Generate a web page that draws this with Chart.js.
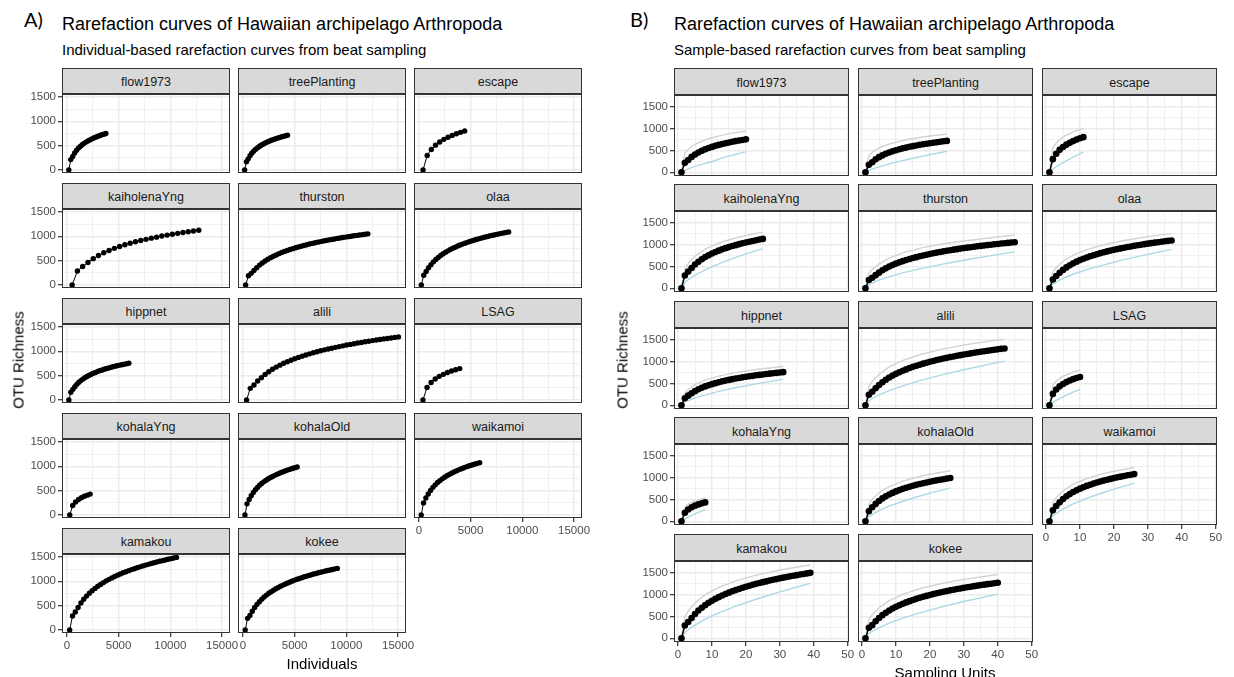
<!DOCTYPE html>
<html>
<head>
<meta charset="utf-8">
<script src="https://cdn.jsdelivr.net/npm/chart.js@4.4.1/dist/chart.umd.min.js"></script>
<style>
  body { margin: 0; width: 1234px; height: 677px; overflow: hidden; position: relative; background: #fff;
         font-family: 'Liberation Sans', Arial, sans-serif; }
  .txt { position: absolute; white-space: nowrap; line-height: 1; }
  .strip { position: absolute; box-sizing: border-box; background: #d9d9d9; border: 1px solid #333;
           color: #1a1a1a; font-size: 12.5px; display: flex; align-items: center; justify-content: center; padding-top: 2px; }
  canvas { position: absolute; }
</style>
</head>
<body>
<script>
// --- Data ---
const siteNames = ['flow1973', 'treePlanting', 'escape', 'kaiholenaYng', 'thurston', 'olaa', 'hippnet',
                   'alili', 'LSAG', 'kohalaYng', 'kohalaOld', 'waikamoi', 'kamakou', 'kokee'];

// OTU richness after 1, 2, 3 ... sampling units (one entry per unit)
const richFlow1973 = [0, 215, 279, 351, 407, 452, 490, 523, 553, 579, 602, 624, 644, 662, 679, 695, 710, 724, 737, 750];
const richTreePlanting = [0, 170, 230, 295, 345, 385, 421, 451, 478, 503, 525, 545, 563, 581, 596, 611, 625, 638, 651, 663, 674, 685, 696, 706, 715];
const richEscape = [0, 300, 423, 511, 577, 630, 674, 711, 745, 774, 800];
const richKaiholenaYng = [0, 290, 380, 464, 542, 606, 663, 710, 753, 791, 826, 857, 887, 914, 938, 962, 983, 1005, 1025, 1043, 1061, 1078, 1095, 1110, 1125];
const richThurston = [0, 190, 240, 300, 357, 410, 454, 494, 529, 562, 591, 618, 644, 667, 689, 709, 729, 747, 764, 781, 797, 813, 827, 841, 855, 867, 880, 891, 904, 915, 926, 936, 946, 957, 966, 975, 984, 993, 1002, 1010, 1019, 1027, 1034, 1043, 1050];
const richOlaa = [0, 200, 280, 355, 419, 476, 525, 568, 607, 642, 674, 702, 729, 754, 777, 800, 821, 840, 859, 876, 893, 909, 924, 940, 953, 967, 980, 993, 1005, 1017, 1028, 1039, 1050, 1061, 1070, 1080, 1090];
const richHippnet = [0, 160, 220, 275, 322, 364, 399, 430, 458, 482, 505, 525, 545, 562, 579, 595, 609, 623, 636, 649, 660, 671, 683, 692, 703, 712, 721, 730, 738, 747, 755];
const richAlili = [0, 240, 310, 390, 460, 526, 581, 632, 676, 716, 754, 787, 818, 848, 875, 901, 925, 948, 970, 991, 1010, 1030, 1048, 1064, 1081, 1097, 1112, 1128, 1142, 1156, 1169, 1182, 1195, 1207, 1220, 1232, 1242, 1254, 1264, 1274, 1285, 1295];
const richLSAG = [0, 260, 359, 432, 486, 528, 564, 595, 621, 645];
const richKohalaYng = [0, 195, 269, 319, 356, 385, 409, 430];
const richKohalaOld = [0, 230, 320, 396, 464, 521, 568, 611, 647, 681, 711, 739, 764, 787, 809, 830, 849, 868, 885, 901, 917, 932, 946, 959, 972, 985];
const richWaikamoi = [0, 250, 350, 432, 506, 569, 620, 667, 706, 743, 776, 806, 834, 859, 883, 906, 927, 947, 965, 984, 1001, 1017, 1032, 1047, 1061, 1075];
const richKamakou = [0, 290, 370, 463, 554, 632, 697, 755, 808, 855, 898, 937, 974, 1009, 1040, 1070, 1098, 1123, 1150, 1174, 1196, 1219, 1240, 1259, 1278, 1296, 1316, 1332, 1348, 1365, 1381, 1396, 1410, 1424, 1438, 1451, 1465, 1478, 1490];
const richKokee = [0, 240, 300, 387, 463, 527, 583, 634, 677, 717, 754, 787, 817, 846, 873, 898, 922, 945, 966, 987, 1006, 1025, 1042, 1059, 1075, 1092, 1106, 1121, 1135, 1149, 1161, 1175, 1187, 1199, 1211, 1222, 1233, 1243, 1255, 1265];

// individuals accumulated at the same steps
const indivFlow1973 = [189, 377, 566, 754, 943, 1131, 1320, 1508, 1697, 1885, 2074, 2262, 2451, 2639, 2828, 3016, 3205, 3393, 3582, 3770];
const indivTreePlanting = [173, 346, 518, 691, 864, 1037, 1210, 1382, 1555, 1728, 1901, 2074, 2246, 2419, 2592, 2765, 2938, 3110, 3283, 3456, 3629, 3802, 3974, 4147, 4320];
const indivEscape = [403, 805, 1208, 1611, 2014, 2416, 2819, 3222, 3624, 4027, 4430];
const indivKaiholenaYng = [510, 1020, 1530, 2040, 2550, 3060, 3570, 4080, 4590, 5100, 5610, 6120, 6630, 7140, 7650, 8160, 8670, 9180, 9690, 10200, 10710, 11220, 11730, 12240, 12750];
const indivThurston = [268, 537, 805, 1074, 1342, 1611, 1879, 2148, 2416, 2684, 2953, 3221, 3490, 3758, 4027, 4295, 4563, 4832, 5100, 5369, 5637, 5906, 6174, 6442, 6711, 6979, 7248, 7516, 7785, 8053, 8321, 8590, 8858, 9127, 9395, 9664, 9932, 10200, 10469, 10737, 11006, 11274, 11543, 11811, 12080];
const indivOlaa = [235, 469, 704, 938, 1173, 1408, 1642, 1877, 2111, 2346, 2581, 2815, 3050, 3284, 3519, 3754, 3988, 4223, 4457, 4692, 4927, 5161, 5396, 5630, 5865, 6100, 6334, 6569, 6803, 7038, 7273, 7507, 7742, 7976, 8211, 8446, 8680];
const indivHippnet = [193, 386, 580, 773, 966, 1159, 1353, 1546, 1739, 1932, 2125, 2319, 2512, 2705, 2898, 3092, 3285, 3478, 3671, 3865, 4058, 4251, 4444, 4637, 4831, 5024, 5217, 5410, 5604, 5797, 5990];
const indivAlili = [358, 716, 1074, 1432, 1790, 2149, 2507, 2865, 3223, 3581, 3939, 4297, 4655, 5013, 5371, 5730, 6088, 6446, 6804, 7162, 7520, 7878, 8236, 8594, 8952, 9310, 9669, 10027, 10385, 10743, 11101, 11459, 11817, 12175, 12533, 12891, 13250, 13608, 13966, 14324, 14682, 15040];
const indivLSAG = [395, 790, 1185, 1580, 1975, 2370, 2765, 3160, 3555, 3950];
const indivKohalaYng = [281, 563, 844, 1125, 1406, 1688, 1969, 2250];
const indivKohalaOld = [202, 404, 606, 808, 1010, 1212, 1413, 1615, 1817, 2019, 2221, 2423, 2625, 2827, 3029, 3231, 3433, 3635, 3837, 4038, 4240, 4442, 4644, 4846, 5048, 5250];
const indivWaikamoi = [226, 452, 678, 905, 1131, 1357, 1583, 1809, 2035, 2262, 2488, 2714, 2940, 3166, 3392, 3618, 3845, 4071, 4297, 4523, 4749, 4975, 5202, 5428, 5654, 5880];
const indivKamakou = [272, 544, 815, 1087, 1359, 1631, 1903, 2174, 2446, 2718, 2990, 3262, 3533, 3805, 4077, 4349, 4621, 4892, 5164, 5436, 5708, 5979, 6251, 6523, 6795, 7067, 7338, 7610, 7882, 8154, 8426, 8697, 8969, 9241, 9513, 9785, 10056, 10328, 10600];
const indivKokee = [228, 457, 685, 913, 1141, 1370, 1598, 1826, 2054, 2283, 2511, 2739, 2967, 3196, 3424, 3652, 3880, 4109, 4337, 4565, 4793, 5022, 5250, 5478, 5706, 5935, 6163, 6391, 6619, 6848, 7076, 7304, 7532, 7761, 7989, 8217, 8445, 8674, 8902, 9130];

// upper (grey) and lower (blue) curves, [sampling units, richness]
const upperFlow1973 = [[1, 0], [2, 437], [3, 527], [5, 639], [8, 741], [12, 829], [16, 892], [20, 940]];
const lowerFlow1973 = [[1, 0], [2, 45], [3, 78], [5, 135], [8, 205], [10, 240], [12, 300], [14, 350], [16, 385], [20, 470]];
const upperTreePlanting = [[1, 0], [2, 382], [3, 457], [5, 555], [8, 645], [12, 725], [16, 782], [20, 826], [25, 870]];
const lowerTreePlanting = [[1, 0], [2, 44], [3, 74], [5, 125], [8, 191], [12, 267], [16, 337], [20, 403], [25, 480]];
const upperEscape = [[1, 0], [2, 553], [3, 670], [5, 805], [8, 922], [11, 1000]];
const lowerEscape = [[1, 0], [2, 73], [3, 127], [5, 221], [8, 346], [11, 460]];
const upperKaiholenaYng = [[1, 0], [2, 439], [3, 568], [5, 736], [8, 892], [12, 1030], [16, 1128], [20, 1203], [25, 1280]];
const lowerKaiholenaYng = [[1, 0], [2, 126], [3, 194], [5, 298], [8, 422], [12, 558], [16, 676], [20, 783], [25, 905]];
const upperThurston = [[1, 0], [2, 341], [3, 431], [5, 557], [8, 687], [12, 806], [17, 910], [23, 1003], [30, 1077], [38, 1152], [45, 1215]];
const lowerThurston = [[1, 0], [2, 79], [3, 122], [5, 188], [8, 265], [12, 351], [17, 443], [23, 539], [30, 640], [38, 745], [45, 830]];
const upperOlaa = [[1, 0], [2, 372], [3, 474], [5, 616], [8, 756], [12, 881], [17, 992], [23, 1089], [30, 1177], [37, 1245]];
const lowerOlaa = [[1, 0], [2, 96], [3, 147], [5, 227], [8, 320], [12, 424], [17, 535], [23, 652], [30, 774], [37, 885]];
const upperHippnet = [[1, 0], [2, 281], [3, 361], [5, 469], [8, 573], [12, 665], [17, 745], [23, 815], [31, 885]];
const lowerHippnet = [[1, 0], [2, 72], [3, 110], [5, 169], [8, 239], [12, 317], [17, 400], [23, 487], [31, 590]];
const upperAlili = [[1, 0], [2, 432], [3, 548], [5, 709], [8, 873], [12, 1022], [17, 1151], [23, 1269], [30, 1373], [38, 1466], [42, 1505]];
const lowerAlili = [[1, 0], [2, 100], [3, 155], [5, 237], [8, 336], [12, 444], [17, 561], [23, 683], [30, 810], [38, 943], [42, 1005]];
const upperLSAG = [[1, 0], [2, 455], [3, 552], [5, 662], [8, 756], [10, 800]];
const lowerLSAG = [[1, 0], [2, 63], [3, 110], [5, 191], [8, 299], [10, 365]];
const upperKohalaYng = [[1, 0], [2, 323], [3, 391], [5, 466], [8, 530]];
const lowerKohalaYng = [[1, 0], [2, 56], [3, 97], [5, 169], [8, 265]];
const upperKohalaOld = [[1, 0], [2, 389], [3, 503], [5, 651], [8, 791], [12, 914], [16, 1002], [20, 1070], [26, 1150]];
const lowerKohalaOld = [[1, 0], [2, 103], [3, 159], [5, 244], [8, 345], [12, 457], [16, 553], [20, 641], [26, 760]];
const upperWaikamoi = [[1, 0], [2, 414], [3, 535], [5, 693], [8, 843], [12, 974], [16, 1067], [20, 1139], [26, 1225]];
const lowerWaikamoi = [[1, 0], [2, 118], [3, 182], [5, 279], [8, 395], [12, 523], [16, 633], [20, 734], [26, 870]];
const upperKamakou = [[1, 0], [2, 491], [3, 624], [5, 810], [8, 995], [12, 1162], [17, 1309], [23, 1440], [30, 1555], [38, 1658], [39, 1670]];
const lowerKamakou = [[1, 0], [2, 131], [3, 201], [5, 300], [8, 438], [12, 580], [17, 731], [23, 890], [30, 1057], [38, 1230], [39, 1250]];
const upperKokee = [[1, 0], [2, 423], [3, 537], [5, 696], [8, 857], [12, 1001], [17, 1128], [23, 1241], [30, 1341], [38, 1430], [40, 1450]];
const lowerKokee = [[1, 0], [2, 104], [3, 160], [5, 245], [8, 347], [12, 458], [17, 578], [23, 705], [30, 837], [38, 973], [40, 1005]];

// axis breaks
const richnessTicks = [0, 500, 1000, 1500];
const richnessMinor = [250, 750, 1250];
const individualTicks = [0, 5000, 10000, 15000];
const individualMinor = [2500, 7500, 12500];
const unitTicks = [0, 10, 20, 30, 40, 50];
const unitMinor = [5, 15, 25, 35, 45];

const richness = [richFlow1973, richTreePlanting, richEscape, richKaiholenaYng, richThurston, richOlaa, richHippnet,
                  richAlili, richLSAG, richKohalaYng, richKohalaOld, richWaikamoi, richKamakou, richKokee];
const individuals = [indivFlow1973, indivTreePlanting, indivEscape, indivKaiholenaYng, indivThurston, indivOlaa, indivHippnet,
                     indivAlili, indivLSAG, indivKohalaYng, indivKohalaOld, indivWaikamoi, indivKamakou, indivKokee];
const upper = [upperFlow1973, upperTreePlanting, upperEscape, upperKaiholenaYng, upperThurston, upperOlaa, upperHippnet,
               upperAlili, upperLSAG, upperKohalaYng, upperKohalaOld, upperWaikamoi, upperKamakou, upperKokee];
const lower = [lowerFlow1973, lowerTreePlanting, lowerEscape, lowerKaiholenaYng, lowerThurston, lowerOlaa, lowerHippnet,
               lowerAlili, lowerLSAG, lowerKohalaYng, lowerKohalaOld, lowerWaikamoi, lowerKamakou, lowerKokee];

// --- Layout ---
const FONT = "'Liberation Sans', Arial, sans-serif";
const AXL = 50, AXB = 26, AXR = 22, AXT = 10;   // room for tick labels around each panel

const gridA = { cols: [62, 238, 414], width: 168, stripTops: [68, 183, 298, 413, 528], stripH: 26, height: 79 };
const gridB = { cols: [674, 858, 1042], width: 175, stripTops: [68, 184, 301, 417, 534], stripH: 27, height: 81 };

Chart.defaults.font.family = FONT;

function addText(text, css) {
  const d = document.createElement('div');
  d.className = 'txt';
  d.textContent = text;
  Object.assign(d.style, css);
  document.body.appendChild(d);
}

// dark frame round each panel
const panelBorder = {
  id: 'panelBorder',
  afterDraw(chart) {
    const { ctx, chartArea: a } = chart;
    ctx.save();
    ctx.strokeStyle = '#333';
    ctx.lineWidth = 1;
    ctx.strokeRect(a.left + 0.5, a.top + 0.5, a.right - a.left - 1, a.bottom - a.top - 1);
    ctx.restore();
  }
};

function makeAxis(min, max, majors, minors, showLabels, isY) {
  const all = majors.concat(minors).sort((a, b) => a - b);
  const isMajor = v => majors.includes(v);
  return {
    type: 'linear', min, max,
    afterBuildTicks: s => { s.ticks = all.map(v => ({ value: v })); },
    // fixed axis size and no label overhang, so every panel lines up
    afterFit: s => {
      if (isY) s.width = AXL; else s.height = AXB;
      s.paddingTop = s.paddingBottom = s.paddingLeft = s.paddingRight = 0;
    },
    ticks: {
      display: showLabels, autoSkip: false, maxRotation: 0, padding: 2,
      color: '#4d4d4d', font: { size: 11.5 },
      callback: v => isMajor(v) ? String(v) : ''
    },
    grid: {
      color: '#ebebeb',
      lineWidth: c => (c.tick && isMajor(c.tick.value)) ? 1.4 : 0.7,
      drawTicks: showLabels, tickLength: 4, tickWidth: 1.2,
      tickColor: c => (c.tick && isMajor(c.tick.value)) ? '#333' : 'rgba(0,0,0,0)'
    },
    border: { display: false }
  };
}

function drawFacet(grid, i, datasets, xCfg, yCfg) {
  const r = Math.floor(i / 3), c = i % 3;
  const left = grid.cols[c], stripTop = grid.stripTops[r], top = stripTop + grid.stripH;

  const cv = document.createElement('canvas');
  cv.width = AXL + grid.width + AXR;
  cv.height = AXT + grid.height + AXB;
  cv.style.left = (left - AXL) + 'px';
  cv.style.top = (top - AXT) + 'px';
  document.body.appendChild(cv);

  const strip = document.createElement('div');
  strip.className = 'strip';
  strip.textContent = siteNames[i];
  Object.assign(strip.style, { left: left + 'px', top: stripTop + 'px', width: grid.width + 'px', height: grid.stripH + 'px' });
  document.body.appendChild(strip);

  const showY = c === 0, showX = i >= 11;
  new Chart(cv, {
    type: 'line',
    data: { datasets },
    options: {
      responsive: false, animation: false, events: [], devicePixelRatio: 1,
      layout: { padding: { left: 0, top: AXT, right: AXR, bottom: 0 }, autoPadding: false },
      plugins: { legend: { display: false }, tooltip: { enabled: false } },
      scales: {
        x: makeAxis(xCfg.min, xCfg.max, xCfg.majors, xCfg.minors, showX, false),
        y: makeAxis(yCfg.min, yCfg.max, richnessTicks, richnessMinor, showY, true)
      }
    },
    plugins: [panelBorder]
  });
}

// --- Panel A: individual-based ---
addText('A)', { left: '24px', top: '9px', fontSize: '20px', fontFamily: 'Lato, sans-serif' });
addText('Rarefaction curves of Hawaiian archipelago Arthropoda', { left: '62px', top: '15px', fontSize: '18px' });
addText('Individual-based rarefaction curves from beat sampling', { left: '62px', top: '42px', fontSize: '15px' });

siteNames.forEach((name, i) => {
  const pts = individuals[i].map((x, k) => ({ x, y: richness[i][k] }));
  drawFacet(gridA, i, [{
    data: pts, borderColor: '#000', borderWidth: 1,
    pointRadius: 2.7, pointBackgroundColor: '#000', pointBorderWidth: 0
  }], { min: -470, max: 15770, majors: individualTicks, minors: individualMinor },
      { min: -60, max: 1560 });
});

addText('OTU Richness', { left: '18px', top: '360px', fontSize: '15px', transform: 'translate(-50%, -50%) rotate(-90deg)' });
addText('Individuals', { left: '322px', top: '656px', fontSize: '15px', transform: 'translateX(-50%)' });

// --- Panel B: sample-based ---
addText('B)', { left: '630px', top: '9px', fontSize: '20px', fontFamily: 'Lato, sans-serif' });
addText('Rarefaction curves of Hawaiian archipelago Arthropoda', { left: '674px', top: '15px', fontSize: '18px' });
addText('Sample-based rarefaction curves from beat sampling', { left: '674px', top: '42px', fontSize: '15px' });

siteNames.forEach((name, i) => {
  const toXY = ([x, y]) => ({ x, y });
  drawFacet(gridB, i, [
    { data: richness[i].map((y, k) => ({ x: k + 1, y })), borderColor: '#000', borderWidth: 1.5,
      pointRadius: 3.3, pointBackgroundColor: '#000', pointBorderWidth: 0 },
    { data: upper[i].map(toXY), borderColor: '#d3d3d3', borderWidth: 1.4, pointRadius: 0 },
    { data: lower[i].map(toXY), borderColor: '#add8e6', borderWidth: 1.4, pointRadius: 0 }
  ], { min: -1.2, max: 50.4, majors: unitTicks, minors: unitMinor },
     { min: -84, max: 1760 });
});

addText('OTU Richness', { left: '622px', top: '360px', fontSize: '15px', transform: 'translate(-50%, -50%) rotate(-90deg)' });
addText('Sampling Units', { left: '945px', top: '665px', fontSize: '15px', transform: 'translateX(-50%)' });
</script>
</body>
</html>
